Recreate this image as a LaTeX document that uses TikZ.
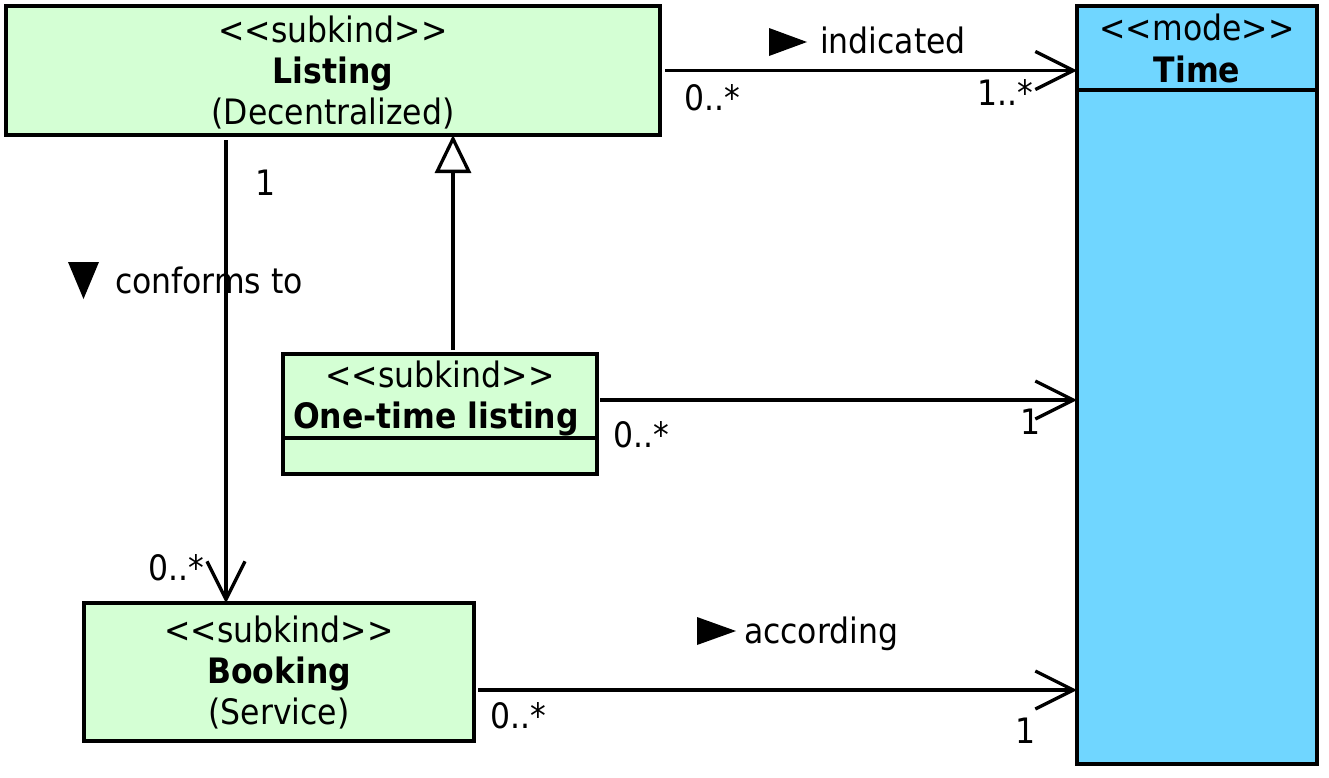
\documentclass[tikz,border=0pt]{standalone}
\usepackage{fontspec}
\setmainfont{DejaVu Sans Condensed}
\usetikzlibrary{arrows.meta}
\definecolor{ugreen}{RGB}{212,255,212}
\definecolor{ublue}{RGB}{112,214,255}
\newcommand\stereo[1]{<\kern0pt<#1>\kern0pt>}
\begin{document}
\begin{tikzpicture}[x=1pt,y=-1pt,
  every node/.style={font=\fontsize{35}{41}\selectfont, inner sep=0pt, outer sep=0pt},
  cls/.style={draw, line width=3.3pt, anchor=north west},
  txt/.style={anchor=base},
  conn/.style={line width=3.3pt},
  assoc/.style={conn, -{Straight Barb[length=38pt,width=38pt]}},
  gen/.style={conn, -{Triangle[length=38pt,width=36pt,fill=white]}},
  dirmark/.style={fill=black}
]
\useasboundingbox (0,0) rectangle (1329,777);

% classes
\node[cls, fill=ugreen, minimum width=654pt, minimum height=129pt] (listing) at (6,6) {};
\node[txt] (l1) at (333,42) {\stereo{subkind}};
\node[txt] (l2) at (333,83) {\textbf{Listing}};
\node[txt] (l3) at (333,124) {(Decentralized)};

\node[cls, fill=ublue, minimum width=240pt, minimum height=758pt] (time) at (1077,6) {};
\node[txt] (t1) at (1197,40) {\stereo{mode}};
\node[txt] (t2) at (1197,82) {\textbf{Time}};
\draw[conn] (1077,90) -- (1317,90);

\node[cls, fill=ugreen, minimum width=314pt, minimum height=120pt] (onetime) at (283,354) {};
\node[txt] (o1) at (440,387) {\stereo{subkind}};
\node[txt] (o2) at (436,428) {\textbf{One-time listing}};
\draw[conn] (283,438) -- (597,438);

\node[cls, fill=ugreen, minimum width=390pt, minimum height=138pt] (booking) at (84,603) {};
\node[txt] (b1) at (279,642) {\stereo{subkind}};
\node[txt] (b2) at (279,683) {\textbf{Booking}};
\node[txt] (b3) at (279,724) {(Service)};

% connectors
\draw[assoc, shorten <=5pt] (listing.east) -- (listing.east -| time.west);

\path ([yshift=14pt]onetime.east) coordinate (ot);
\draw[assoc, shorten <=3pt] (ot) -- (ot -| time.west);

\path ([yshift=-18pt]booking.east) coordinate (bk);
\draw[assoc, shorten <=4pt] (bk) -- (bk -| time.west);

\path ([xshift=-107pt]listing.south) coordinate (cf);
\draw[assoc, shorten <=5pt] (cf) -- (cf |- booking.north);

\path ([xshift=13pt]onetime.north) coordinate (gn);
\draw[gen, shorten <=4pt] (gn) -- (gn |- listing.south);

% labels
\fill[dirmark] (769,28) -- (807,42) -- (769,56) -- cycle;
\node[anchor=base west] (lind) at (820,53) {indicated};
\fill[dirmark] (68,262) -- (99,262) -- (83.5,299) -- cycle;
\node[anchor=base west] (lconf) at (115,293) {conforms to};
\fill[dirmark] (697,617) -- (736,631) -- (697,645) -- cycle;
\node[anchor=base west] (lacc) at (744,643) {according};

% multiplicities
\node[txt] (m1) at (266,195) {1};
\node[txt] (m2) at (712,110) {0..*};
\node[txt] (m3) at (1005,105) {1..*};
\node[txt] (m4) at (641,447) {0..*};
\node[txt] (m5) at (1030,434) {1};
\node[txt] (m6) at (176,580) {0..*};
\node[txt] (m7) at (518,728) {0..*};
\node[txt] (m8) at (1025,743) {1};
\end{tikzpicture}
\end{document}
